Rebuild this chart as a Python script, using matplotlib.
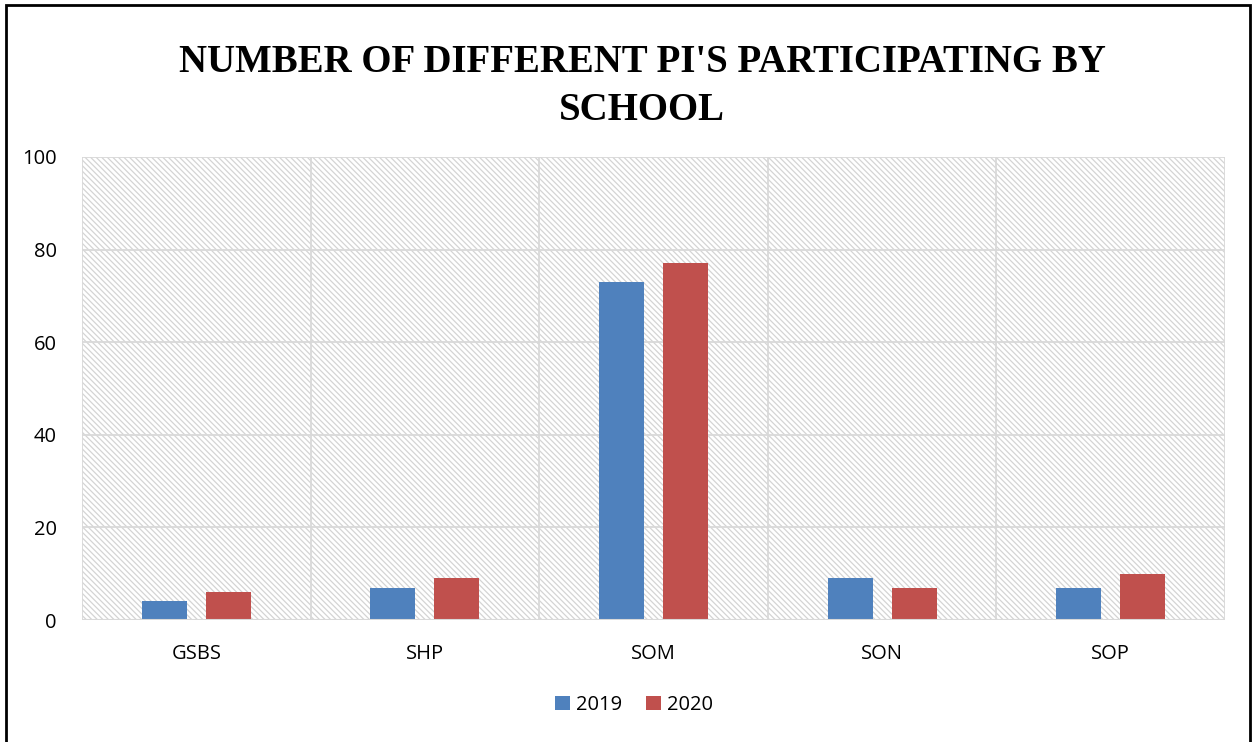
import matplotlib
matplotlib.use("Agg")
import matplotlib.pyplot as plt
import numpy as np
from matplotlib.patches import Rectangle

categories = ["GSBS", "SHP", "SOM", "SON", "SOP"]
series_names = ["2019", "2020"]
values_2019 = [4, 7, 73, 9, 7]
values_2020 = [6, 9, 77, 7, 10]
y_ticks = [0, 20, 40, 60, 80, 100]
title_lines = ["NUMBER OF DIFFERENT PI'S PARTICIPATING BY", "SCHOOL"]

W, H = 1254, 742
fig = plt.figure(figsize=(W / 100, H / 100), dpi=100)
plt.rcParams['hatch.linewidth'] = 0.9

ax = fig.add_axes([82 / W, (H - 620) / H, (1225 - 82) / W, (620 - 157) / H])
ax.set_xlim(-0.5, len(categories) - 0.5)
ax.set_ylim(0, 100)

# hatched plot background
bg = Rectangle((0, 0), 1, 1, transform=ax.transAxes, facecolor="white",
               edgecolor="#d4d4d4", hatch="\\" * 6, linewidth=0, zorder=0)
ax.add_patch(bg)

# grid
for yv in y_ticks:
    ax.axhline(yv, color="#d9d9d9", lw=1.3, zorder=1)
for xv in np.arange(-0.5, len(categories), 1.0):
    ax.axvline(xv, color="#d9d9d9", lw=1.3, zorder=1)

x = np.arange(len(categories))
off = 0.14
bw = 0.197
ax.bar(x - off, values_2019, bw, color="#4F81BD", label=series_names[0], zorder=3)
ax.bar(x + off, values_2020, bw, color="#C0504D", label=series_names[1], zorder=3)

for s in ax.spines.values():
    s.set_visible(False)
ax.axhline(0, color="#d9d9d9", lw=1.5, zorder=4)

font = "Open Sans"
ax.set_yticks(y_ticks)
ax.set_yticklabels([str(v) for v in y_ticks], fontsize=14.5, family=font)
ax.set_xticks(x)
ax.set_xticklabels(categories, fontsize=14.5, family=font)
ax.tick_params(axis="y", length=0, pad=18)
ax.tick_params(axis="x", length=0, pad=17)

leg = fig.legend(loc="center", bbox_to_anchor=(634 / W, (H - 705) / H), ncol=2,
                 frameon=False, prop={"family": font, "size": 14.5},
                 handlelength=0.75, handleheight=0.75, handletextpad=0.3,
                 columnspacing=1.2)

tfont = "Liberation Serif"
fig.text(642 / W, (H - 62) / H, title_lines[0], ha="center", va="center",
         fontsize=28, fontweight="bold", family=tfont)
fig.text(642 / W, (H - 110) / H, title_lines[1], ha="center", va="center",
         fontsize=28, fontweight="bold", family=tfont)

# outer border (left, top, right)
fig.add_artist(Rectangle((5.5 / W, -0.05), (1250 - 5.5) / W, (H - 4.5) / H + 0.05,
                         transform=fig.transFigure, fill=False, edgecolor="black",
                         lw=2, zorder=10))

fig.savefig("out.png", dpi=100)
